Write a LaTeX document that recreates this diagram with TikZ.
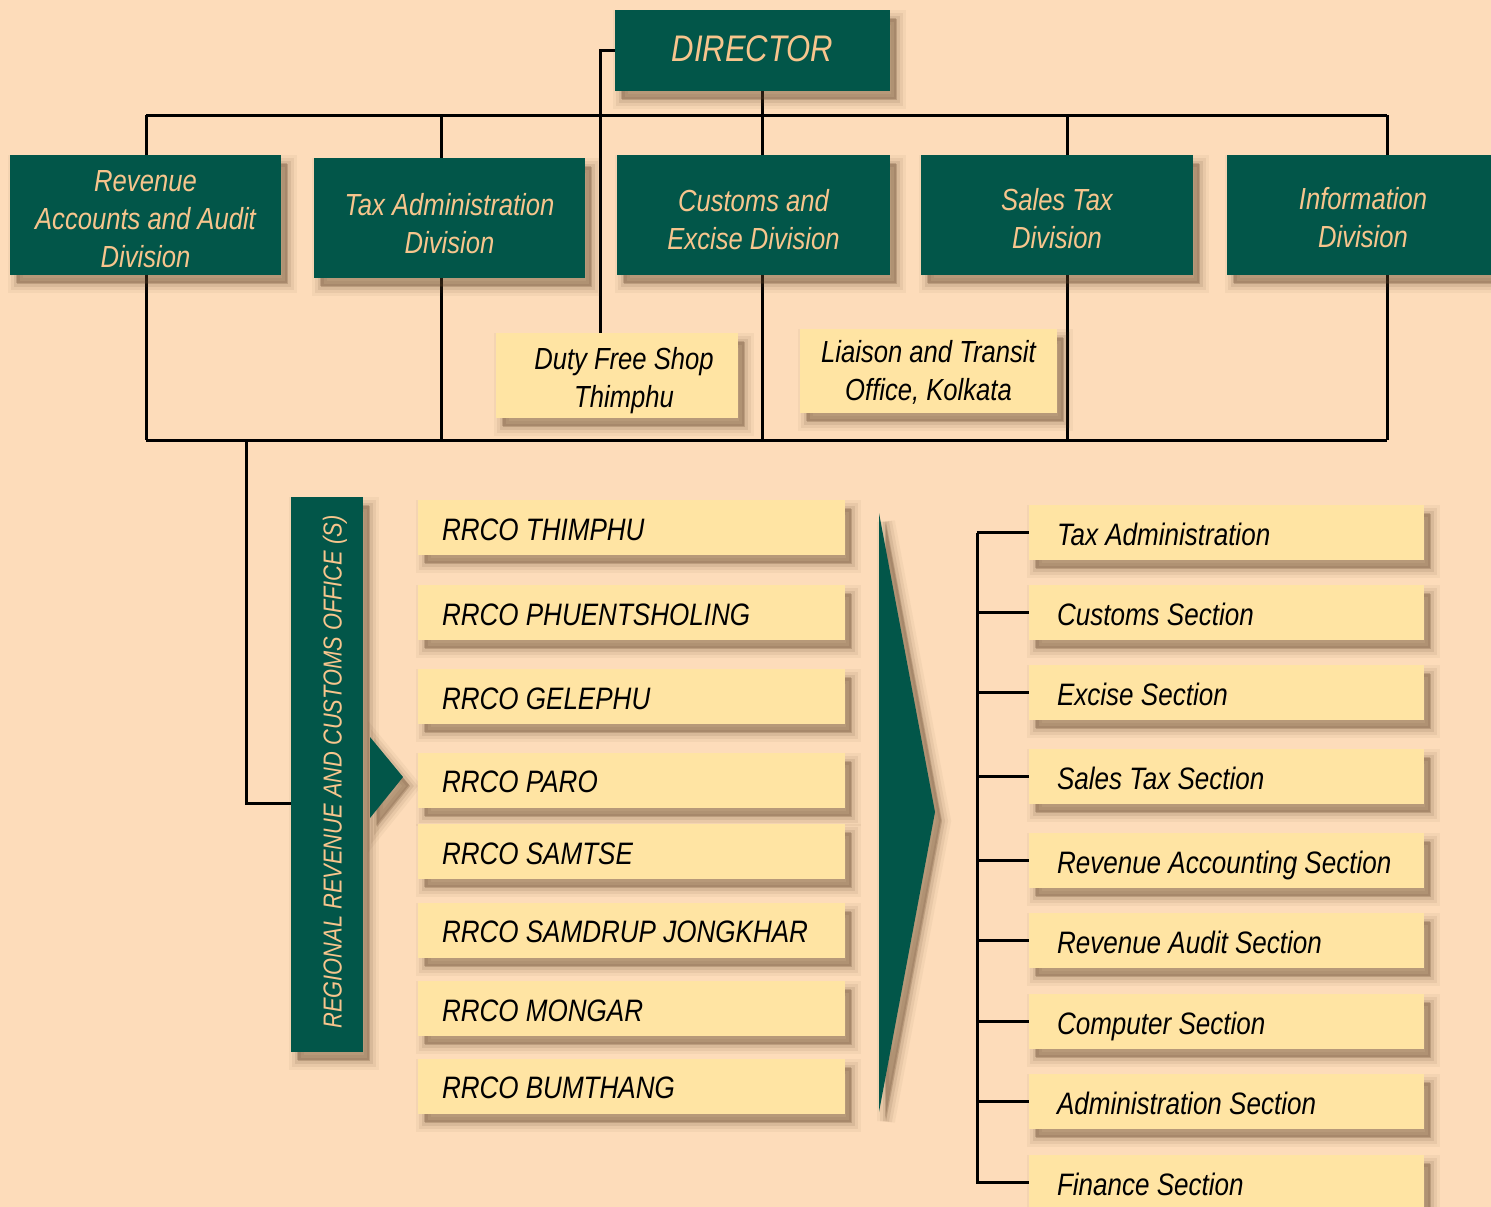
\documentclass[tikz,border=0pt]{standalone}
\usepackage{fontspec}
\setmainfont{Liberation Sans}[FakeStretch=0.84]
\usetikzlibrary{shadows,backgrounds}
\definecolor{bgc}{RGB}{253,220,186}
\definecolor{dgreen}{RGB}{2,86,73}
\definecolor{peachtxt}{RGB}{247,197,141}
\definecolor{ylw}{RGB}{255,228,163}
\definecolor{shc}{RGB}{95,65,40}
\tikzset{
  blurshadow/.style={
    general shadow={fill=shc,draw=shc,line width=18pt,opacity=0.05,shadow xshift=7pt,shadow yshift=-9pt},
    general shadow={fill=shc,draw=shc,line width=12pt,opacity=0.08,shadow xshift=7pt,shadow yshift=-9pt},
    general shadow={fill=shc,draw=shc,line width=6pt,opacity=0.11,shadow xshift=7pt,shadow yshift=-9pt},
    general shadow={fill=shc,opacity=0.22,shadow xshift=6pt,shadow yshift=-8pt}},
  gbox/.style={fill=dgreen,inner sep=0pt,blurshadow},
  gtxt/.style={text=peachtxt,align=center,inner sep=0pt,
    font=\itshape\fontsize{30.5}{38}\selectfont},
  ytxt/.style={text=black,align=center,inner sep=0pt,
    font=\itshape\fontsize{30.5}{38}\selectfont},
  ybox/.style={fill=ylw,inner sep=0pt,blurshadow},
  rrbox/.style={fill=ylw,text=black,align=flush left,inner xsep=24pt,inner ysep=0pt,
    text width=379pt,minimum height=55pt,text height=25pt,text depth=0pt,blurshadow,
    font=\itshape\fontsize{31}{38}\selectfont},
  secbox/.style={fill=ylw,text=black,align=flush left,inner xsep=28pt,inner ysep=0pt,
    text width=339pt,minimum height=55pt,text height=26pt,text depth=0pt,blurshadow,
    font=\itshape\fontsize{31}{38}\selectfont},
  conn/.style={draw=black,line width=3pt},
}
\begin{document}
\begin{tikzpicture}[x=1pt,y=-1pt]
\begin{scope}[on background layer]
  \fill[bgc] (0,0) rectangle (1491,1207);
\end{scope}
\useasboundingbox (0,0) rectangle (1491,1207);

% top level
\node[gbox,minimum width=275pt,minimum height=81pt,
  label={[gtxt,font=\itshape\fontsize{37}{44}\selectfont,yshift=2pt]center:DIRECTOR}] (dir) at (752.5,50.5) {};

\node[gbox,minimum width=271pt,minimum height=120pt,
  label={[gtxt,yshift=-4pt]center:{Revenue\\Accounts and Audit\\Division}}] (rev) at (145.5,215) {};
\node[gbox,minimum width=271pt,minimum height=120pt,
  label={[gtxt,yshift=-6pt]center:{Tax Administration\\Division}}] (tax) at (449.5,218) {};
\node[gbox,minimum width=273pt,minimum height=120pt,
  label={[gtxt,yshift=-5pt]center:{Customs and\\Excise Division}}] (cus) at (753.5,215) {};
\node[gbox,minimum width=272pt,minimum height=120pt,
  label={[gtxt,yshift=-4pt]center:{Sales Tax\\Division}}] (sal) at (1057,215) {};
\node[gbox,minimum width=272pt,minimum height=120pt,
  label={[gtxt,yshift=-3pt]center:{Information\\Division}}] (inf) at (1363,215) {};

\node[ybox,minimum width=242pt,minimum height=85pt,
  label={[ytxt,yshift=-6pt,xshift=7pt]center:{Duty Free Shop\\Thimphu}}] (dfs) at (617,375) {};
\node[ybox,minimum width=257pt,minimum height=84pt,
  label={[ytxt,yshift=-1pt]center:{Liaison and Transit\\Office, Kolkata}}] (lia) at (928.5,371) {};

% regional office vertical box
\node[gbox,minimum width=72pt,minimum height=555pt,
  label={[gtxt,rotate=90,xshift=2.5pt,yshift=-8pt,font=\itshape\fontsize{26}{30}\selectfont]center:REGIONAL REVENUE AND CUSTOMS OFFICE (S)}] (rrv) at (327,774.5) {};
\fill[dgreen,blurshadow] (370,737) -- (403,777) -- (370,818) -- cycle;

% RRCO boxes
\node[rrbox] (r1) at (631.5,527.5) {RRCO THIMPHU};
\node[rrbox] (r2) at (631.5,612.5) {RRCO PHUENTSHOLING};
\node[rrbox] (r3) at (631.5,696.5) {RRCO GELEPHU};
\node[rrbox] (r4) at (631.5,780) {RRCO PARO};
\node[rrbox] (r5) at (631.5,851.5) {RRCO SAMTSE};
\node[rrbox] (r6) at (631.5,930) {RRCO SAMDRUP JONGKHAR};
\node[rrbox] (r7) at (631.5,1008.5) {RRCO MONGAR};
\node[rrbox] (r8) at (631.5,1086) {RRCO BUMTHANG};

% big arrow
\fill[dgreen,blurshadow] (879,513) -- (935,812) -- (879,1112) -- cycle;

% sections
\node[secbox] (s1) at (1226.5,532.5) {Tax Administration};
\node[secbox] (s2) at (1226.5,612.5) {Customs Section};
\node[secbox] (s3) at (1226.5,692) {Excise Section};
\node[secbox] (s4) at (1226.5,776.5) {Sales Tax Section};
\node[secbox] (s5) at (1226.5,860.5) {Revenue Accounting Section};
\node[secbox] (s6) at (1226.5,940.5) {Revenue Audit Section};
\node[secbox] (s7) at (1226.5,1021.5) {Computer Section};
\node[secbox] (s8) at (1226.5,1101.5) {Administration Section};
\node[secbox] (s9) at (1226.5,1182.5) {Finance Section};

% coordinates
\coordinate (tb1) at (146,115);
\coordinate (tb2) at (441,115);
\coordinate (tb3) at (762,115);
\coordinate (tb4) at (1067,115);
\coordinate (tb5) at (1387,115);
\coordinate (bb1) at (146,440);
\coordinate (bb2) at (441,440);
\coordinate (bb3) at (762,440);
\coordinate (bb4) at (1067,440);
\coordinate (bb5) at (1387,440);
\coordinate (dfsk) at (600,332);
\coordinate (rrk) at (246,440);
\coordinate (rrj) at (246,803);
\coordinate (sk) at (977,532.5);

\begin{scope}[on background layer]
  \draw[conn] (tb1) -- (tb5);
  \draw[conn] (bb1) -- (bb5);
  \draw[conn] (tb1) -- (bb1);
  \draw[conn] (tb2) -- (bb2);
  \draw[conn] (dir.south -| tb3) -- (bb3);
  \draw[conn] (tb4) -- (bb4);
  \draw[conn] (tb5) -- (bb5);
  \draw[conn] (dir.west) -| (dfsk) -- (dfs.north -| dfsk);
  \draw[conn] (rrk) -- (rrj) -- (rrj -| rrv.west);
  \draw[conn] (sk) |- (s9.west);
  \foreach \s in {s1,s2,s3,s4,s5,s6,s7,s8,s9}{
    \draw[conn] (\s.west -| sk) -- (\s.west);
  }
\end{scope}
\end{tikzpicture}
\end{document}
